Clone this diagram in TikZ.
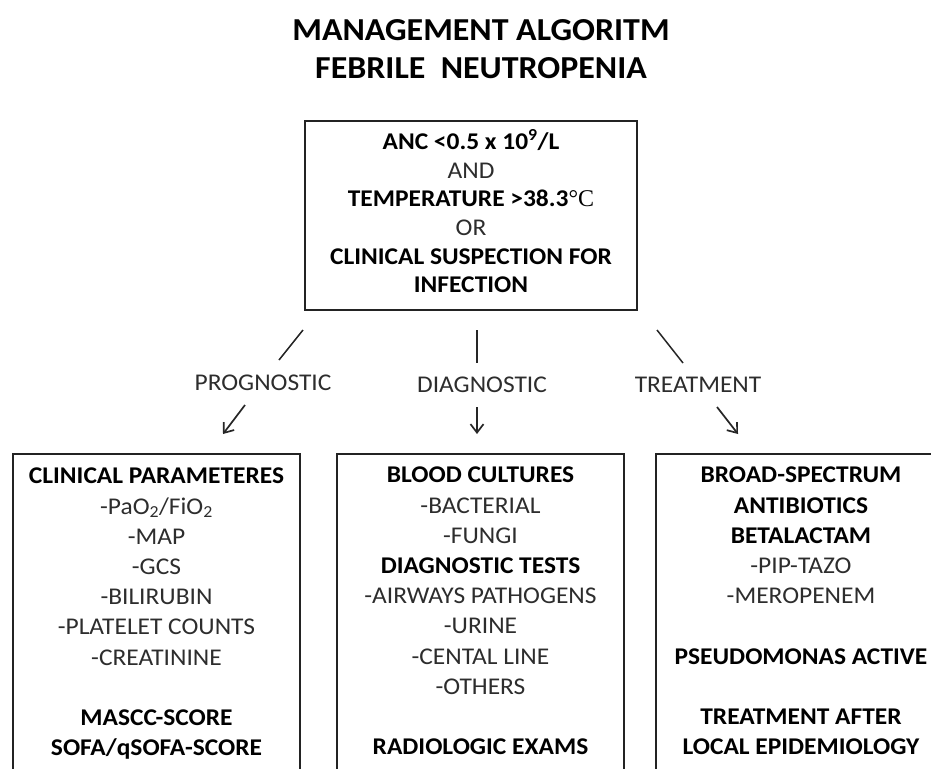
\documentclass[tikz,border=0pt]{standalone}
\usepackage{fontspec}
\setmainfont{Carlito}[FakeStretch=1.06]
\newfontfamily\degfont{Liberation Serif}
\usetikzlibrary{arrows.meta}
\definecolor{txtreg}{RGB}{45,45,45}
\definecolor{boxline}{RGB}{35,35,35}
\newcommand\Bf[1]{\textbf{\color{black}#1}}
\begin{document}
\begin{tikzpicture}[x=1pt,y=-1pt,
  boxstyle/.style={draw=boxline, line width=1.6pt, inner sep=0pt},
  bodytext/.style={align=center, font=\fontsize{24}{30.2}\selectfont, text=txtreg, inner sep=0pt},
  lbl/.style={font=\fontsize{24}{28}\selectfont, text=txtreg, inner sep=0pt},
  tick/.style={line width=1.5pt, draw=black!85},
  arr/.style={line width=1.7pt, draw=black!85, -{Straight Barb[length=8.5pt,width=13pt]}}]
\useasboundingbox (0,0) rectangle (931,768);
\clip (0,0) rectangle (931,768);
\fill[white] (0,0) rectangle (931,768);

% title
\node[align=center, inner sep=0pt, font=\fontsize{32}{38}\selectfont\bfseries, text=black] (title) at (481,52)
  {\strut MANAGEMENT ALGORITM\\\strut FEBRILE\ \ NEUTROPENIA};

% top box
\node[boxstyle, bodytext, font=\fontsize{24}{28.6}\selectfont, minimum width=332pt, minimum height=189pt] (top) at (471,215.5)
  {\strut\Bf{ANC <0.5 x 10\textsuperscript{9}/L}\\
   \strut AND\\
   \strut\Bf{TEMPERATURE >38.3}{\degfont\color{black}°C}\\
   \strut OR\\
   \strut\Bf{CLINICAL SUSPECTION FOR}\\
   \strut\Bf{INFECTION}};

% branch labels
\node[lbl] (prog) at (263,383) {PROGNOSTIC};
\node[lbl] (diag) at (482,385) {DIAGNOSTIC};
\node[lbl] (treat) at (698,385) {TREATMENT};

% connector ends
\coordinate (pa) at (303,330); \coordinate (pb) at (279,360);
\coordinate (da) at (477,330); \coordinate (db) at (477,363);
\coordinate (ta) at (657,330); \coordinate (tb) at (683,363);
\coordinate (pc) at (245,405); \coordinate (pd) at (223,434);
\coordinate (dc) at (477,407); \coordinate (dd) at (477,434);
\coordinate (tc) at (717,407); \coordinate (td) at (738,434);
\draw[tick] (pa) -- (pb);
\draw[tick] (da) -- (db);
\draw[tick] (ta) -- (tb);
\draw[arr] (pc) -- (pd);
\draw[arr] (dc) -- (dd);
\draw[arr] (tc) -- (td);

% bottom boxes
\node[boxstyle, minimum width=287pt, minimum height=360pt, anchor=north] (pbox) at (156.5,453) {};
\node[boxstyle, minimum width=287pt, minimum height=360pt, anchor=north] (dbox) at (480.5,453) {};
\node[boxstyle, minimum width=287pt, minimum height=360pt, anchor=north] (tbox) at (799.5,453) {};

\node[bodytext, anchor=north] (ptext) at (156.5,462.6)
  {\strut\Bf{CLINICAL PARAMETERES}\\
   \strut -PaO\textsubscript{2}/FiO\textsubscript{2}\\
   \strut -MAP\\
   \strut -GCS\\
   \strut -BILIRUBIN\\
   \strut -PLATELET COUNTS\\
   \strut -CREATININE\\
   \strut\\
   \strut\Bf{MASCC-SCORE}\\
   \strut\Bf{SOFA/qSOFA-SCORE}};

\node[bodytext, anchor=north] (dtext) at (480.5,461.6)
  {\strut\Bf{BLOOD CULTURES}\\
   \strut -BACTERIAL\\
   \strut -FUNGI\\
   \strut\Bf{DIAGNOSTIC TESTS}\\
   \strut -AIRWAYS PATHOGENS\\
   \strut -URINE\\
   \strut -CENTAL LINE\\
   \strut -OTHERS\\
   \strut\\
   \strut\Bf{RADIOLOGIC EXAMS}};

\node[bodytext, anchor=north] (ttext) at (801,461.6)
  {\strut\Bf{BROAD-SPECTRUM}\\
   \strut\Bf{ANTIBIOTICS}\\
   \strut\Bf{BETALACTAM}\\
   \strut -PIP-TAZO\\
   \strut -MEROPENEM\\
   \strut\\
   \strut\Bf{PSEUDOMONAS ACTIVE}\\
   \strut\\
   \strut\Bf{TREATMENT AFTER}\\
   \strut\Bf{LOCAL EPIDEMIOLOGY}};
\end{tikzpicture}
\end{document}
